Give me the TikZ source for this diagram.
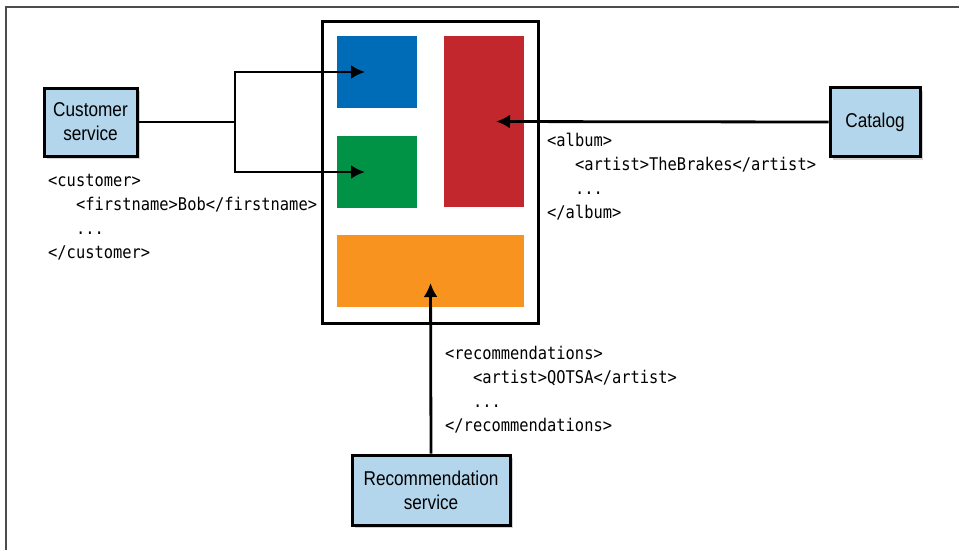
\documentclass[tikz,border=0pt]{standalone}
\usepackage{xcolor}
\usepackage{fontspec}
\setsansfont[FakeStretch=0.86]{Liberation Sans}
\setmonofont[FakeStretch=0.88]{DejaVu Sans Mono}
\usepackage{tikz}
\usetikzlibrary{arrows.meta,shadows}

\definecolor{bleuclair}{RGB}{180,214,236}
\definecolor{bleu}{RGB}{0,107,183}
\definecolor{rouge}{RGB}{193,39,45}
\definecolor{vert}{RGB}{0,146,69}
\definecolor{orange}{RGB}{247,147,30}

\begin{document}
\begin{tikzpicture}[
        x=1pt, y=-1pt,
        % Styles des nœuds
        service/.style={rectangle, draw=black, line width=3pt, fill=bleuclair, align=center,
            font=\sffamily\fontsize{20}{24}\selectfont,
            drop shadow={shadow xshift=3pt, shadow yshift=-3pt, opacity=0.35}},
        page/.style={rectangle, draw=black, line width=3pt, fill=white, minimum width=216pt, minimum height=302pt},
        bloc/.style={rectangle, inner sep=0pt, minimum width=80pt, minimum height=72pt},
        xml/.style={inner sep=0pt, anchor=base west, align=left,
            font=\ttfamily\fontsize{17.5}{24}\selectfont},
        % Style des flèches
        fleche/.style={-{Latex[length=14pt,width=14pt]}, line width=2.8pt, shorten >=12pt}
    ]
    \useasboundingbox (0,0) rectangle (959,550);

    % Cadre
    \draw[line width=1.5pt, gray!60!black] (959,7) -- (6,7) -- (6,550);

    % Page et ses blocs
    \node[page] (page) at (430,172) {};
    \node[bloc, fill=bleu] (bleu) at (377,72) {};
    \node[bloc, fill=vert] (vert) at (377,172) {};
    \node[bloc, fill=rouge, minimum height=171pt] (rouge) at (484,121.5) {};
    \node[bloc, fill=orange, minimum width=187pt] (orange) at (430.5,271) {};

    % Services
    \node[service, minimum width=93pt, minimum height=68pt] (client) at (90.5,122) {Customer\\service};
    \node[service, minimum width=90pt, minimum height=69pt] (catalogue) at (875,122) {Catalog};
    \node[service, minimum width=158pt, minimum height=70pt] (reco) at (431,490) {Recommendation\\service};

    % Flèches
    \draw[line width=2.8pt] (client.east) -- (235,122) coordinate (fourche);
    \draw[fleche] (fourche) |- (bleu.center);
    \draw[fleche] (fourche) |- (vert.center);
    \draw[fleche] (catalogue.west) -- (rouge.center);
    \draw[fleche] (reco.north) -- (orange.center);

    % Messages XML (ancrés sur la dernière ligne)
    \node[xml] (xmlclient) at (48,258) {<customer>\\\hphantom{xxx}<firstname>Bob</firstname>\\\hphantom{xxx}...\\</customer>};
    \node[xml] (xmlalbum) at (547,218) {<album>\\\hphantom{xxx}<artist>TheBrakes</artist>\\\hphantom{xxx}...\\</album>};
    \node[xml] (xmlreco) at (445,431) {<recommendations>\\\hphantom{xxx}<artist>QOTSA</artist>\\\hphantom{xxx}...\\</recommendations>};

\end{tikzpicture}
\end{document}
